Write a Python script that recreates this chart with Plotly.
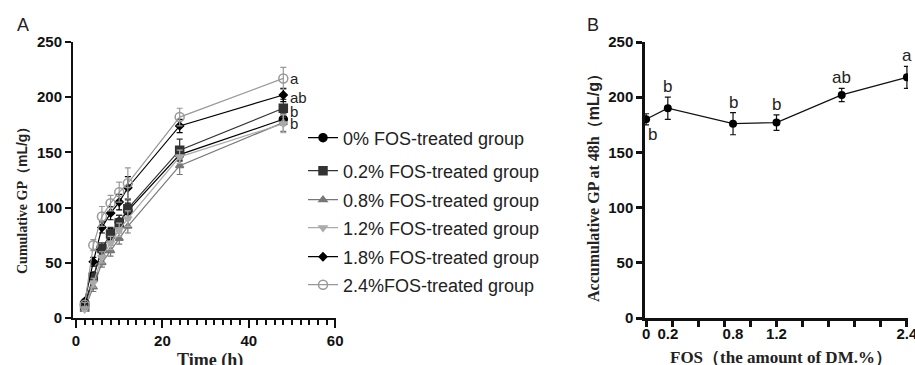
import plotly.graph_objects as go

# ---------------- data ----------------
time_h = [2, 4, 6, 8, 10, 12, 24, 48]
groups = ["0% FOS-treated group", "0.2% FOS-treated group", "0.8% FOS-treated group",
          "1.2% FOS-treated group", "1.8% FOS-treated group", "2.4%FOS-treated group"]
gp_0 = [12, 38, 62, 76, 87, 97, 148, 180]
gp_02 = [10, 37, 63, 76, 86, 99, 152, 190]
gp_08 = [8, 28, 50, 61, 72, 83, 138, 177]
gp_12 = [8, 32, 55, 68, 80, 90, 146, 176]
gp_18 = [15, 51, 82, 95, 105, 118, 174, 202]
gp_24 = [12, 66, 92, 104, 114, 122, 182, 217]
err_0 = [2, 3, 4, 5, 6, 7, 5, 5]
err_02 = [2, 3, 5, 6, 7, 8, 10, 8]
err_08 = [2, 4, 4, 5, 5, 6, 8, 8]
err_12 = [2, 4, 5, 6, 6, 7, 6, 8]
err_18 = [2, 4, 5, 6, 7, 10, 6, 6]
err_24 = [2, 5, 9, 7, 9, 14, 8, 10]
letters_A = ["b", "b", "b", "b", "ab", "a"]

fos_dose = [0, 0.2, 0.8, 1.2, 1.8, 2.4]
gp48 = [180, 190, 176, 177, 202, 218]
gp48_err = [5, 10, 10, 7, 6, 10]
letters_B = ["b", "b", "b", "b", "ab", "a"]
fos_ticks = [0, 0.2, 0.8, 1.2, 2.4]
fos_ticklabels = ["0", "0.2", "0.8", "1.2", "2.4"]

series_vals = [gp_0, gp_02, gp_08, gp_12, gp_18, gp_24]
series_errs = [err_0, err_02, err_08, err_12, err_18, err_24]
colors = ["#000000", "#333333", "#777777", "#aaaaaa", "#000000", "#999999"]
symbols = ["circle", "square", "triangle-up", "triangle-down", "diamond", "circle-open"]
sizes = [8, 8, 7, 7, 6, 9]
legend_ids = ["legend", "legend2", "legend3", "legend4", "legend5", "legend6"]
legend_yc = [138, 171, 200, 228, 257, 285]   # pixel centres of legend rows

W, H = 915, 365

fig = go.Figure()

for name, vals, errs, c, s, sz, lg in zip(groups, series_vals, series_errs, colors, symbols, sizes, legend_ids):
    fig.add_trace(go.Scatter(
        x=time_h, y=vals, name=name, mode="lines+markers", legend=lg,
        line=dict(color=c, width=1.2),
        marker=dict(symbol=s, size=sz, color=c, line=dict(color=c, width=1.5)),
        error_y=dict(type="data", array=errs, color=c, thickness=1.2, width=3),
        xaxis="x", yaxis="y"))

fig.add_trace(go.Scatter(
    x=fos_dose, y=gp48, mode="lines+markers", showlegend=False,
    line=dict(color="#111111", width=1.3),
    marker=dict(symbol="circle", size=8, color="#000000"),
    error_y=dict(type="data", array=gp48_err, color="#111111", thickness=1.2, width=3),
    xaxis="x2", yaxis="y2"))

ann = []
# letters for panel A (at 48 h, right of points)
order = [5, 4, 1, 0]
offs = {5: 0, 4: -2, 1: -3, 0: -4}
for i in order:
    ann.append(dict(x=48, y=series_vals[i][-1] + offs[i], xref="x", yref="y", text=letters_A[i],
                    showarrow=False, xanchor="left", xshift=5,
                    font=dict(family="Arial", size=15, color="#222")))
# letters for panel B
for i, (xv, yv, e, lt) in enumerate(zip(fos_dose, gp48, gp48_err, letters_B)):
    if i == 0:
        ann.append(dict(x=xv, y=yv, xref="x2", yref="y2", text=lt, showarrow=False,
                        xanchor="left", yanchor="top", xshift=0, yshift=-4,
                        font=dict(family="Arial", size=17, color="#222")))
    else:
        ann.append(dict(x=xv, y=yv + e, xref="x2", yref="y2", text=lt, showarrow=False,
                        yanchor="bottom", yshift=-1,
                        font=dict(family="Arial", size=17, color="#222")))


def px(xp, yp):
    return xp / W, 1 - yp / H


def txt(xp, yp, text, font, angle=0):
    x, y = px(xp, yp)
    ann.append(dict(x=x, y=y, xref="paper", yref="paper", xanchor="center", yanchor="middle",
                    textangle=angle, showarrow=False, text=text, font=font))


txt(23, 25, "A", dict(family="Arial", size=18, color="#222"))
txt(593, 25, "B", dict(family="Arial", size=18, color="#222"))

serif = "Times New Roman, Liberation Serif, serif"
txt(22, 197, "<b>Cumulative GP</b><b style='font-family:Arial'>（mL/g）</b>",
    dict(family=serif, size=14, color="#222"), -90)
txt(210, 360, "<b>Time (h)</b>", dict(family=serif, size=18, color="#222"))
txt(594, 184, "<b>Accumulative GP at 48h</b><b style='font-family:Arial'>（mL/g）</b>",
    dict(family=serif, size=16, color="#222"), -90)
txt(781, 357, "<b>FOS</b><b style='font-family:Arial'>（</b><b>the amount of DM.%</b><b style='font-family:Arial'>）</b>",
    dict(family=serif, size=17, color="#222"))

tickfont = dict(family="Arial", size=15, color="#111", weight="bold")
ydom = [1 - 318 / H, 1 - 42 / H]

layout_legends = {}
for lg, yc in zip(legend_ids, legend_yc):
    layout_legends[lg] = dict(x=303 / W, y=1 - yc / H, xanchor="left", yanchor="middle",
                              font=dict(family="Arial", size=18, color="#222"),
                              bgcolor="rgba(0,0,0,0)", itemwidth=30)

fig.update_layout(
    width=W, height=H,
    margin=dict(l=0, r=0, t=0, b=0, autoexpand=False),
    paper_bgcolor="white", plot_bgcolor="white",
    showlegend=True,
    annotations=ann,
    xaxis=dict(domain=[73 / W, 336 / W], range=[-0.7, 60.2], showgrid=False, zeroline=False,
               showline=True, linecolor="#111", linewidth=2, automargin=False,
               tickmode="array", tickvals=[0, 20, 40, 60], ticks="outside", ticklen=8,
               tickwidth=2, tickcolor="#111",
               minor=dict(tickmode="linear", tick0=0, dtick=2, ticks="outside", ticklen=5,
                          tickwidth=2, tickcolor="#111"),
               tickfont=tickfont, anchor="y"),
    yaxis=dict(domain=ydom, range=[0, 250], showgrid=False, zeroline=False,
               showline=True, linecolor="#111", linewidth=2, automargin=False,
               tickvals=[0, 50, 100, 150, 200, 250], ticks="outside", ticklen=6,
               tickwidth=2, tickcolor="#111", tickfont=tickfont, anchor="x"),
    xaxis2=dict(domain=[645 / W, 908 / W], range=[-0.01, 2.41], showgrid=False, zeroline=False,
                showline=True, linecolor="#111", linewidth=2.5, automargin=False,
                tickmode="array", tickvals=fos_ticks, ticktext=fos_ticklabels, ticks="",
                ticklabeloverflow="allow",
                minor=dict(tickmode="linear", tick0=0, dtick=0.24, ticks="outside", ticklen=6,
                           tickwidth=2.5, tickcolor="#111"),
                tickfont=tickfont, anchor="y2"),
    yaxis2=dict(domain=ydom, range=[0, 250], showgrid=False, zeroline=False,
                showline=True, linecolor="#111", linewidth=2.5, automargin=False,
                tickvals=[0, 50, 100, 150, 200, 250], ticks="outside", ticklen=6,
                tickwidth=2.5, tickcolor="#111", tickfont=tickfont, anchor="x2"),
    **layout_legends,
)

fig.write_html("out.html", config={"displayModeBar": False},
               post_script="document.body.style.margin='0';document.body.style.overflow='hidden';")
